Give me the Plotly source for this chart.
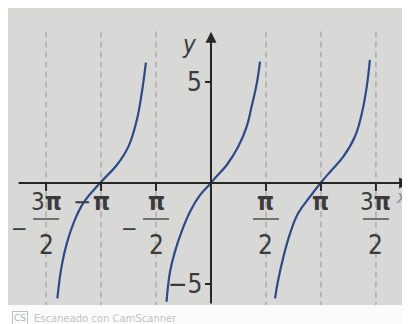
import plotly.graph_objects as go
import numpy as np

# points (x in radians)
left_x = [-4.39, -4.27, -4.12, -3.93, -3.65, -3.17, -2.69, -2.36, -2.12, -1.98, -1.86]
left_y = [-5.71, -4.14, -2.99, -2.00, -1.00, 0.00, 0.89, 1.80, 3.12, 4.44, 5.96]

mid_x = [-1.27, -1.17, -1.03, -0.84, -0.60, -0.31, 0.00, 0.11, 0.45, 0.78, 1.02, 1.16, 1.31, 1.40]
mid_y = [-5.88, -4.39, -3.40, -2.41, -1.42, -0.59, 0.00, 0.23, 0.89, 1.80, 2.79, 3.78, 4.94, 6.00]

right_x = [1.83, 1.92, 2.07, 2.26, 2.49, 2.83, 3.16, 3.45, 3.78, 4.11, 4.31, 4.45, 4.54]
right_y = [-5.71, -4.80, -3.65, -2.49, -1.50, -0.68, 0.06, 0.64, 1.30, 2.29, 3.45, 4.77, 6.09]

# tick positions
x_ticks = [-3 * np.pi / 2, -np.pi, -np.pi / 2, np.pi / 2, np.pi, 3 * np.pi / 2]
x_num = ["3π", "π", "π", "π", "π", "3π"]
x_den = ["2", "", "2", "2", "", "2"]
x_neg = [True, True, True, False, False, False]
y_ticks = [5, -5]
y_text = ["5", "−5"]

CURVE = "#2b4a8a"
INK = "#262626"
TXT = "#3b3b3b"
FONT = "Liberation Sans Narrow, DejaVu Sans Condensed, sans-serif"

x_range = [-5.8, 5.686]
y_range = [-6.04, 8.66]

fig = go.Figure()
for bx, by in [(left_x, left_y), (mid_x, mid_y), (right_x, right_y)]:
    fig.add_trace(go.Scatter(x=bx, y=by, mode="lines",
                             line=dict(color=CURVE, width=2.2, shape="spline", smoothing=1.2),
                             hoverinfo="skip", showlegend=False))

shapes = []
# dashed guide lines
for t in x_ticks:
    shapes.append(dict(type="line", x0=t, x1=t, y0=7.5, y1=y_range[0], xref="x", yref="y",
                       line=dict(color="#acacaa", width=1.5, dash="6px,4px"), layer="below"))
# tick marks
for t in x_ticks:
    shapes.append(dict(type="line", xref="x", yref="y", xsizemode="pixel", ysizemode="pixel",
                       xanchor=t, yanchor=0, x0=0, x1=0, y0=0, y1=-8, line=dict(color=INK, width=2)))
for t in y_ticks:
    shapes.append(dict(type="line", xref="x", yref="y", xsizemode="pixel", ysizemode="pixel",
                       xanchor=0, yanchor=t, x0=-6, x1=0, y0=0, y1=0, line=dict(color=INK, width=2)))

ann = []
# axes with arrows
ann.append(dict(x=5.69, y=0, ax=-5.54, ay=0, xref="x", yref="y", axref="x", ayref="y",
                showarrow=True, arrowhead=2, arrowsize=1.1, arrowwidth=2, arrowcolor=INK, text=""))
ann.append(dict(x=0, y=7.48, ax=0, ay=y_range[0], xref="x", yref="y", axref="x", ayref="y",
                showarrow=True, arrowhead=2, arrowsize=1.1, arrowwidth=2, arrowcolor=INK, text=""))

# x tick labels
for t, num, den, neg in zip(x_ticks, x_num, x_den, x_neg):
    numtxt = num.replace("π", "<b>π</b>")
    ann.append(dict(x=t, y=0, text=numtxt, showarrow=False, yshift=-19, yanchor="middle",
                    font=dict(family=FONT, size=24, color=TXT)))
    if den:
        ann.append(dict(x=t, y=0, text=den, showarrow=False, yshift=-62, yanchor="middle",
                        font=dict(family=FONT, size=26, color=TXT)))
        shapes.append(dict(type="line", xref="x", yref="y", xsizemode="pixel", ysizemode="pixel",
                           xanchor=t, yanchor=0, x0=-13, x1=13, y0=-36, y1=-36,
                           line=dict(color=TXT, width=1.3)))
        if neg:
            ann.append(dict(x=t, y=0, text="−", showarrow=False, yshift=-46, xshift=-27,
                            yanchor="middle", font=dict(family=FONT, size=22, color=TXT)))
    elif neg:
        ann.append(dict(x=t, y=0, text="−", showarrow=False, yshift=-19, xshift=-19,
                        yanchor="middle", font=dict(family=FONT, size=24, color=TXT)))

# y tick labels
for t, s in zip(y_ticks, y_text):
    ann.append(dict(x=0, y=t, text=s, showarrow=False, xanchor="right", xshift=-7, yanchor="middle",
                    font=dict(family=FONT, size=26, color=TXT)))

# axis names
ann.append(dict(x=0, y=6.83, text="<i>y</i>", showarrow=False, xshift=-21, yanchor="middle",
                font=dict(family=FONT, size=24, color=TXT)))
ann.append(dict(x=5.45, y=0, text="<i>x</i>", showarrow=False, yshift=-14, yanchor="middle",
                font=dict(family=FONT, size=18, color="#8a8a8a")))

# scanner watermark
ann.append(dict(x=0, y=0, xref="paper", yref="paper", text="CS", showarrow=False, xanchor="left",
                xshift=4, yshift=-13, yanchor="middle", bordercolor="#c0c0c0", borderwidth=1, borderpad=1,
                font=dict(family="DejaVu Sans", size=9, color="#b4b4b4")))
ann.append(dict(x=0, y=0, xref="paper", yref="paper", text="Escaneado con CamScanner", showarrow=False,
                xanchor="left", xshift=24, yshift=-13, yanchor="middle",
                font=dict(family="DejaVu Sans", size=10, color="#c4c4c4")))

# page body adds an 8px margin, which gives the white strip on the left and top
fig.update_layout(
    width=402, height=316,
    margin=dict(l=0, r=0, t=0, b=19),
    paper_bgcolor="#fbfbfb",
    plot_bgcolor="#d8d8d6",
    xaxis=dict(range=x_range, visible=False, fixedrange=True),
    yaxis=dict(range=y_range, visible=False, fixedrange=True),
    shapes=shapes,
    annotations=ann,
)

fig.write_html("out.html", config={"displayModeBar": False})
